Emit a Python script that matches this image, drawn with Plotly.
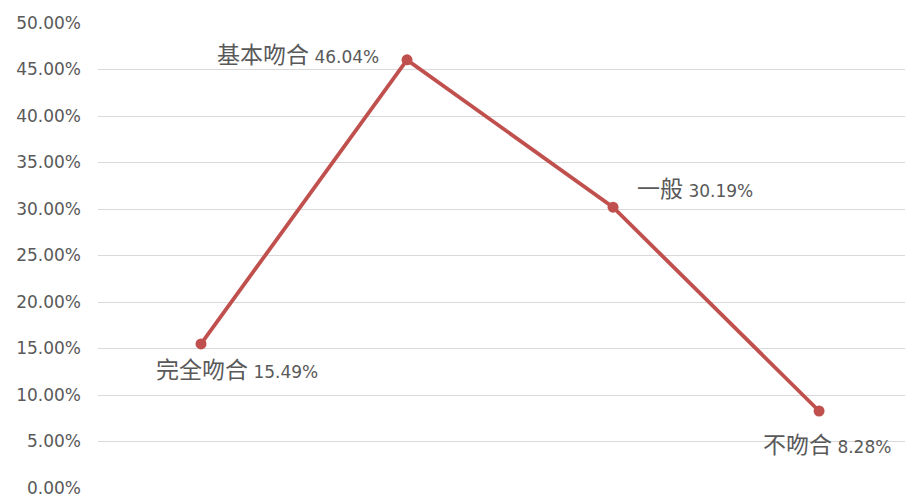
import plotly.graph_objects as go

categories = ["完全吻合", "基本吻合", "一般", "不吻合"]
values = [0.1549, 0.4604, 0.3019, 0.0828]
value_labels = ["15.49%", "46.04%", "30.19%", "8.28%"]
y_ticks = [i * 0.05 for i in range(11)]
y_tick_labels = ["%.2f%%" % (v * 100) for v in y_ticks]

LINE = "#c0504d"
TXT = "#595959"
FONT = "DejaVu Sans, Noto Sans CJK SC, sans-serif"

fig = go.Figure()
fig.add_trace(go.Scatter(
    x=list(range(len(categories))), y=values, mode="lines+markers",
    line=dict(color=LINE, width=3.8),
    marker=dict(color=LINE, size=11),
    hoverinfo="skip", showlegend=False,
))

# label placement (xanchor, yanchor, xshift, yshift)
placement = [
    ("center", "middle", 36, -26),
    ("right", "middle", -26, 5),
    ("left", "middle", 22, 18),
    ("center", "middle", 8, -34),
]
for i, (cat, v, lab) in enumerate(zip(categories, values, value_labels)):
    xa, ya, xs, ys = placement[i]
    fig.add_annotation(
        x=i, y=v, xref="x", yref="y", showarrow=False,
        text=f'<span style="font-size:23px">{cat}</span> {lab}',
        font=dict(family=FONT, size=17, color=TXT),
        xanchor=xa, yanchor=ya, xshift=xs, yshift=ys,
    )

fig.update_layout(
    width=913, height=499,
    margin=dict(l=90, r=8, t=15, b=19),
    paper_bgcolor="white", plot_bgcolor="white",
    font=dict(family=FONT, color=TXT, size=17),
    xaxis=dict(range=[-0.5, 3.456], showgrid=False, showticklabels=False,
               zeroline=False, showline=False, fixedrange=True,
               automargin=False),
    yaxis=dict(range=[0, 0.5], tickvals=y_ticks, ticktext=y_tick_labels,
               showgrid=True, gridcolor="#d9d9d9", gridwidth=1,
               zeroline=False, showline=False, ticks="",
               ticklabelstandoff=16, tickfont=dict(size=17, color=TXT),
               fixedrange=True, automargin=False),
)

fig.write_html("out.html")
